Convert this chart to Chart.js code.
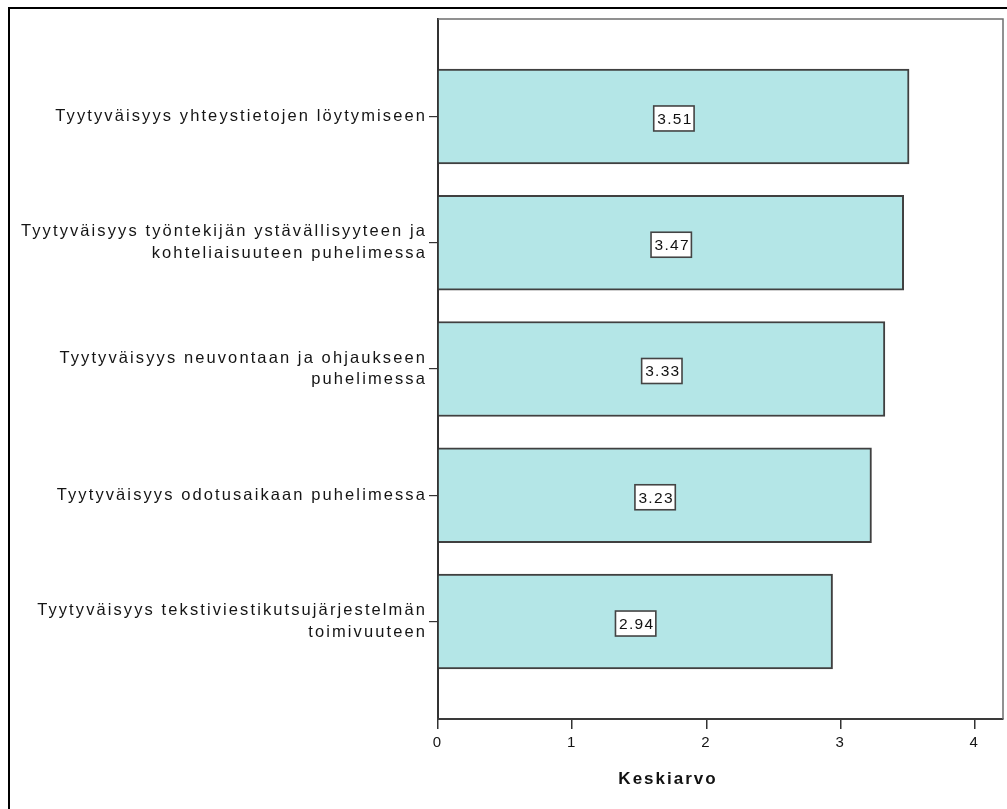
<!DOCTYPE html>
<html>
<head>
<meta charset="utf-8">
<script src="https://cdn.jsdelivr.net/npm/chart.js@4/dist/chart.umd.min.js"></script>
<style>
  html, body { margin: 0; padding: 0; background: #ffffff; }
  #wrap { width: 1007px; height: 809px; }
</style>
</head>
<body>
<div id="wrap"><canvas id="c" width="1007" height="809"></canvas></div>
<script>
// Survey items (line breaks mark wrapped labels)
const categories = [
  'Tyytyväisyys yhteystietojen löytymiseen',
  'Tyytyväisyys työntekijän ystävällisyyteen ja\nkohteliaisuuteen puhelimessa',
  'Tyytyväisyys neuvontaan ja ohjaukseen\npuhelimessa',
  'Tyytyväisyys odotusaikaan puhelimessa',
  'Tyytyväisyys tekstiviestikutsujärjestelmän\ntoimivuuteen'
];
// Mean satisfaction per item
const means = [3.51, 3.47, 3.33, 3.23, 2.94];
// Value axis ticks and title
const xTicks = [0, 1, 2, 3, 4];
const axisTitle = 'Keskiarvo';

const FONT = '"Liberation Sans", Arial, sans-serif';
const SPACING = '2.1px';

// Spaced-out lettering for every text on the canvas
const spacingPlugin = {
  id: 'spacing',
  beforeUpdate(chart) { chart.ctx.letterSpacing = SPACING; },
  beforeLayout(chart) { chart.ctx.letterSpacing = SPACING; },
  beforeDraw(chart) { chart.ctx.letterSpacing = SPACING; }
};

// Outer page frame and the top/right edges of the plot frame
const framePlugin = {
  id: 'frame',
  beforeDatasetsDraw(chart) {
    const { ctx, chartArea: a } = chart;
    ctx.save();
    ctx.strokeStyle = '#6e6e6e';
    ctx.lineWidth = 1.5;
    ctx.beginPath();
    ctx.moveTo(a.left, a.top);
    ctx.lineTo(a.right, a.top);
    ctx.lineTo(a.right, a.bottom);
    ctx.stroke();
    ctx.restore();
  },
  afterDraw(chart) {
    const { ctx, width, height } = chart;
    ctx.save();
    ctx.fillStyle = '#000000';
    ctx.fillRect(8, 7, 2, height - 7);
    ctx.fillRect(8, 7, width - 8, 2);
    // axis title
    ctx.letterSpacing = '2px';
    ctx.font = 'bold 17px ' + FONT;
    ctx.fillStyle = '#111111';
    ctx.textAlign = 'center';
    ctx.textBaseline = 'middle';
    ctx.fillText(axisTitle, 668, 779);
    ctx.restore();
  }
};

// Boxed value labels centred on each bar
const valueBoxPlugin = {
  id: 'valueBoxes',
  afterDatasetsDraw(chart) {
    const { ctx } = chart;
    const meta = chart.getDatasetMeta(0);
    ctx.save();
    ctx.letterSpacing = '1.3px';
    ctx.font = '15.5px ' + FONT;
    meta.data.forEach((bar, i) => {
      const text = means[i].toFixed(2);
      const cx = (bar.x + bar.base) / 2;
      const cy = bar.y + 2;
      const w = ctx.measureText(text).width + 5;
      const h = 25;
      ctx.fillStyle = '#ffffff';
      ctx.fillRect(cx - w / 2, cy - h / 2, w, h);
      ctx.strokeStyle = '#444444';
      ctx.lineWidth = 1.6;
      ctx.strokeRect(cx - w / 2, cy - h / 2, w, h);
      ctx.fillStyle = '#111111';
      ctx.textAlign = 'center';
      ctx.textBaseline = 'middle';
      ctx.fillText(text, cx + 1, cy + 1);
    });
    ctx.restore();
  }
};

new Chart(document.getElementById('c'), {
  type: 'bar',
  data: {
    datasets: [{
      data: means.map((v, i) => ({ x: v, y: i })),
      backgroundColor: '#b4e6e7',
      borderColor: '#404040',
      borderWidth: 2,
      barThickness: 95
    }]
  },
  options: {
    indexAxis: 'y',
    responsive: false,
    animation: false,
    layout: { padding: { top: 19, right: 4, left: 0, bottom: 0 } },
    plugins: { legend: { display: false }, tooltip: { enabled: false }, title: { display: false } },
    scales: {
      y: {
        type: 'linear',
        reverse: true,
        offset: false,
        min: -0.772,
        max: 4.772,
        afterBuildTicks(scale) { scale.ticks = categories.map((_, i) => ({ value: i })); },
        afterFit(scale) {
          scale.width = 438;
          scale.paddingTop = 0;
          scale.paddingBottom = 0;
        },
        grid: { display: true, offset: false, drawOnChartArea: false, drawTicks: true, tickLength: 9, color: '#333333', lineWidth: 1.2 },
        border: { display: true, color: '#333333', width: 2 },
        ticks: {
          autoSkip: false,
          padding: 2,
          color: '#151515',
          font: { family: FONT, size: 16.5, lineHeight: 1.32 },
          callback: (v) => (categories[v] !== undefined ? categories[v].split('\n') : '')
        }
      },
      x: {
        type: 'linear',
        min: 0,
        max: 4.21,
        afterBuildTicks(scale) { scale.ticks = xTicks.map(v => ({ value: v })); },
        afterFit(scale) { scale.height = 90; },
        grid: { display: true, drawOnChartArea: false, drawTicks: true, tickLength: 10, color: '#333333', lineWidth: 1.5 },
        border: { display: true, color: '#3a3a3a', width: 2 },
        ticks: {
          padding: 5,
          color: '#151515',
          font: { family: FONT, size: 15 },
          callback: (v) => String(v)
        }
      }
    }
  },
  plugins: [spacingPlugin, framePlugin, valueBoxPlugin]
});
</script>
</body>
</html>
